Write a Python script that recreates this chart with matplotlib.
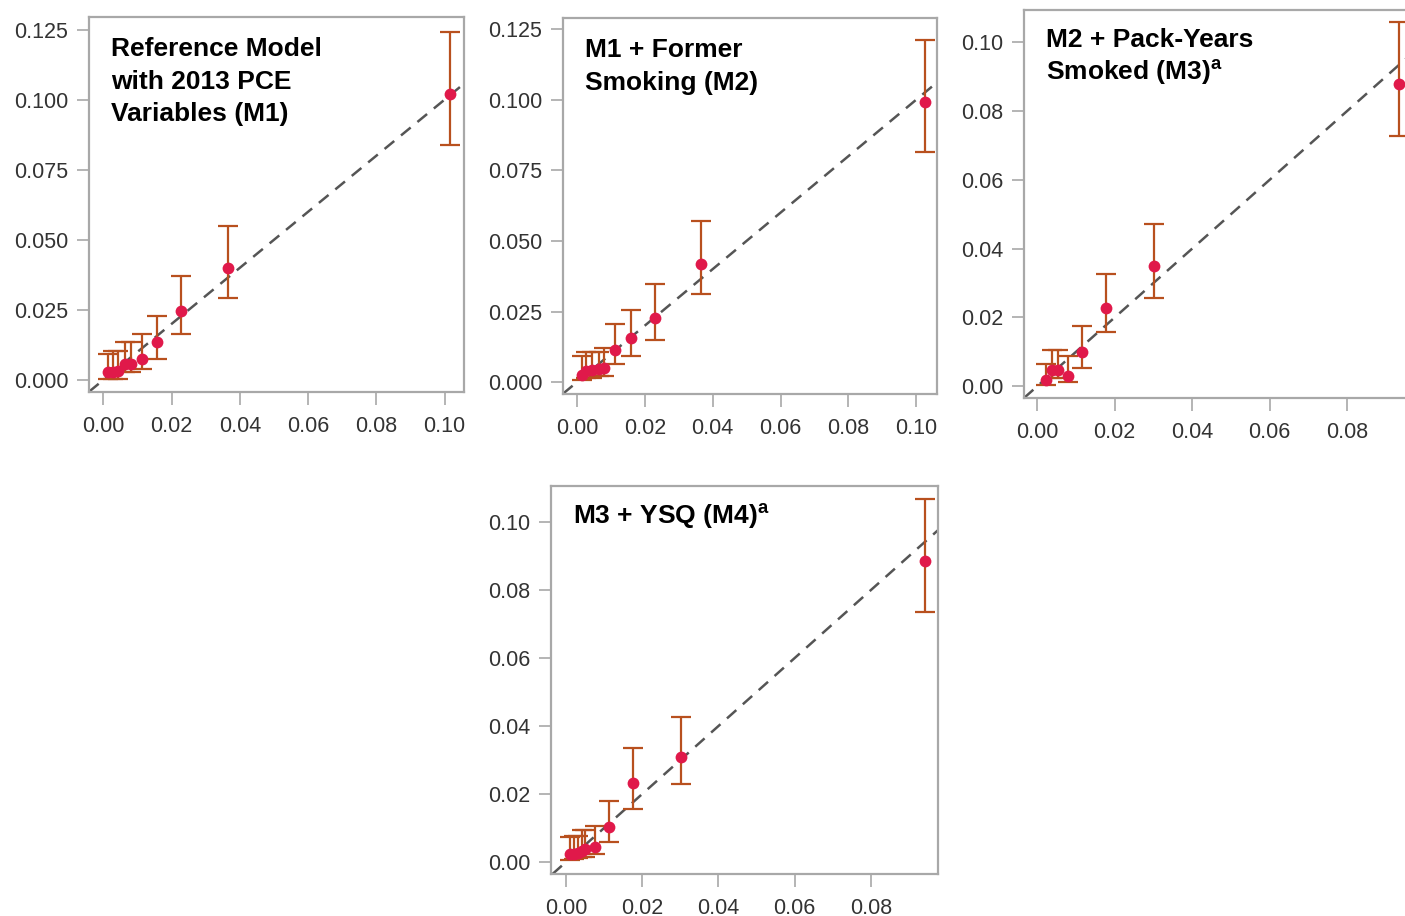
import matplotlib
matplotlib.use("Agg")
import matplotlib.pyplot as plt
from matplotlib.ticker import FormatStrFormatter

plt.rcParams['font.family'] = ['Liberation Sans', 'DejaVu Sans']
plt.rcParams['mathtext.fontset'] = 'custom'
plt.rcParams['mathtext.rm'] = 'Liberation Sans'
plt.rcParams['mathtext.bf'] = 'Liberation Sans:bold'

# predicted (x), observed (y), 95% CI lower / upper
m1_pred = [0.0015, 0.0029, 0.0044, 0.0064, 0.0081, 0.0112, 0.0158, 0.0228, 0.0364, 0.1016]
m1_obs = [0.0027, 0.0030, 0.0032, 0.0056, 0.0056, 0.0076, 0.0134, 0.0247, 0.0398, 0.1019]
m1_lo = [0.0005, 0.0005, 0.0005, 0.0029, 0.0029, 0.0040, 0.0076, 0.0163, 0.0291, 0.0840]
m1_hi = [0.0093, 0.0104, 0.0104, 0.0134, 0.0134, 0.0163, 0.0227, 0.0370, 0.0548, 0.1240]

m2_pred = [0.0015, 0.0027, 0.0044, 0.0064, 0.0081, 0.0113, 0.0160, 0.0231, 0.0366, 0.1027]
m2_obs = [0.0026, 0.0038, 0.0044, 0.0048, 0.0050, 0.0112, 0.0156, 0.0227, 0.0418, 0.0991]
m2_lo = [0.0008, 0.0013, 0.0013, 0.0020, 0.0020, 0.0064, 0.0092, 0.0149, 0.0312, 0.0814]
m2_hi = [0.0092, 0.0106, 0.0106, 0.0106, 0.0120, 0.0205, 0.0255, 0.0347, 0.0569, 0.1212]

m3_pred = [0.0022, 0.0038, 0.0053, 0.0079, 0.0116, 0.0178, 0.0302, 0.0933]
m3_obs = [0.0019, 0.0048, 0.0048, 0.0029, 0.0100, 0.0226, 0.0348, 0.0879]
m3_lo = [0.0005, 0.0024, 0.0024, 0.0012, 0.0052, 0.0158, 0.0256, 0.0727]
m3_hi = [0.0065, 0.0104, 0.0104, 0.0087, 0.0174, 0.0325, 0.0470, 0.1057]

m4_pred = [0.0011, 0.0022, 0.0033, 0.0042, 0.0051, 0.0076, 0.0114, 0.0176, 0.0301, 0.0941]
m4_obs = [0.0023, 0.0025, 0.0028, 0.0034, 0.0039, 0.0045, 0.0104, 0.0234, 0.0310, 0.0886]
m4_lo = [0.0007, 0.0008, 0.0012, 0.0014, 0.0016, 0.0023, 0.0059, 0.0157, 0.0229, 0.0734]
m4_hi = [0.0075, 0.0078, 0.0078, 0.0093, 0.0093, 0.0105, 0.0181, 0.0335, 0.0427, 0.1068]

titles = ["Reference Model\nwith 2013 PCE\nVariables (M1)",
          "M1 + Former\nSmoking (M2)",
          "M2 + Pack-Years\nSmoked (M3)$^{\\mathbf{a}}$",
          "M3 + YSQ (M4)$^{\\mathbf{a}}$"]

W, H = 1405, 916
fig = plt.figure(figsize=(W / 100, H / 100), dpi=100)


def add_panel(box, pred, obs, lo, hi, title, xlim, ylim, xticks, yticks, yfmt, tdy, lsp=1.45):
    left, top, right, bottom = box
    ax = fig.add_axes([left / W, (H - bottom) / H, (right - left) / W, (bottom - top) / H])
    ax.set_xlim(*xlim)
    ax.set_ylim(*ylim)
    ax.axline((0, 0), slope=1, color='#555555', lw=1.8, ls=(0, (5, 3.5)), zorder=1)
    yerr = [[o - l for o, l in zip(obs, lo)], [h - o for o, h in zip(obs, hi)]]
    ax.errorbar(pred, obs, yerr=yerr, fmt='none', ecolor='#b8501e', elinewidth=1.6,
                capsize=7.5, capthick=1.6, zorder=2)
    ax.plot(pred, obs, 'o', color='#e0194a', ms=8.5, mec='none', zorder=3)
    ax.set_xticks(xticks)
    ax.set_yticks(yticks)
    ax.xaxis.set_major_formatter(FormatStrFormatter('%.2f'))
    ax.yaxis.set_major_formatter(FormatStrFormatter(yfmt))
    ax.tick_params(direction='out', length=9, width=1.2, color='#a8a8a8',
                   labelsize=15.5, labelcolor='#333333')
    ax.tick_params(axis='x', pad=8)
    ax.tick_params(axis='y', pad=6)
    for s in ax.spines.values():
        s.set_color('#a8a8a8')
        s.set_linewidth(1.6)
    ax.text(22 / (right - left), 1 - tdy / (bottom - top), title, transform=ax.transAxes,
            ha='left', va='top', fontsize=19, fontweight='bold', linespacing=lsp,
            color='black', zorder=4)
    return ax


ticks_125 = [0, 0.025, 0.05, 0.075, 0.1, 0.125]
ticks_10 = [0, 0.02, 0.04, 0.06, 0.08, 0.10]
ticks_08 = [0, 0.02, 0.04, 0.06, 0.08]

add_panel((89, 17, 464, 392), m1_pred, m1_obs, m1_lo, m1_hi, titles[0],
          (-0.0042, 0.1057), (-0.0043, 0.1295), ticks_10, ticks_125, '%.3f', 20)
add_panel((563, 18, 937, 394), m2_pred, m2_obs, m2_lo, m2_hi, titles[1],
          (-0.0041, 0.1061), (-0.0042, 0.1289), ticks_10, ticks_125, '%.3f', 20)
add_panel((1024, 10, 1412, 398), m3_pred, m3_obs, m3_lo, m3_hi, titles[2],
          (-0.0034, 0.0967), (-0.0034, 0.1093), ticks_08, ticks_10, '%.2f', 18, 1.25)
add_panel((551, 486, 938, 874), m4_pred, m4_obs, m4_lo, m4_hi, titles[3],
          (-0.0039, 0.0976), (-0.0035, 0.1106), ticks_08, ticks_10, '%.2f', 15)

fig.savefig('out.png', dpi=100)
